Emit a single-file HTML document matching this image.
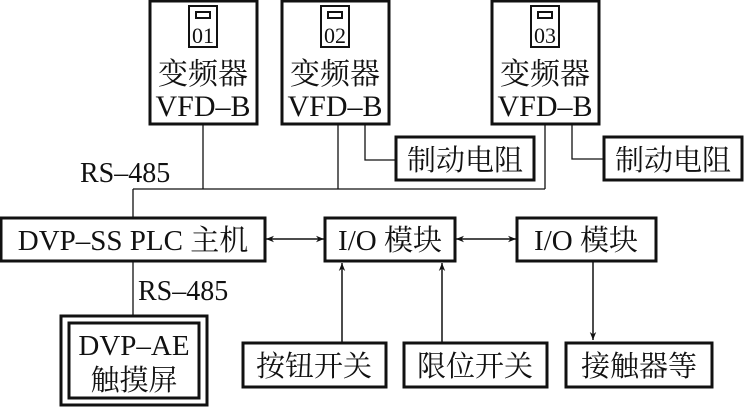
<!DOCTYPE html>
<html><head><meta charset="utf-8"><style>
html,body{margin:0;padding:0;background:#fff;}
svg text{font-family:"Liberation Serif","Noto Serif CJK SC",serif;fill:#111;}
</style></head><body>
<svg width="744" height="407" viewBox="0 0 744 407" xmlns="http://www.w3.org/2000/svg">
<defs>
<marker id="a" viewBox="0 0 10 10" refX="10" refY="5" markerWidth="10" markerHeight="8" orient="auto-start-reverse" markerUnits="userSpaceOnUse">
<path d="M0,1 L10,5 L0,9 L3,5 z" fill="#111"/></marker>
</defs>
<g fill="none" stroke="#111">
<!-- VFD boxes -->
<rect x="150" y="1" width="107" height="123" stroke-width="3"/>
<rect x="282" y="1" width="107" height="123" stroke-width="3"/>
<rect x="492" y="1" width="107" height="123" stroke-width="3"/>
<!-- icons -->
<g stroke-width="2">
<rect x="189" y="6" width="28" height="41"/><rect x="196" y="12" width="14" height="6"/>
<rect x="321" y="6" width="28" height="41"/><rect x="328" y="12" width="14" height="6"/>
<rect x="531" y="6" width="28" height="41"/><rect x="538" y="12" width="14" height="6"/>
</g>
<!-- bus lines -->
<g stroke-width="1.3">
<line x1="203" y1="124" x2="203" y2="189"/>
<line x1="338" y1="124" x2="338" y2="189"/>
<line x1="545" y1="124" x2="545" y2="189"/>
<line x1="133" y1="189" x2="545" y2="189"/>
<line x1="133" y1="189" x2="133" y2="218"/>
<line x1="133" y1="262" x2="133" y2="315"/>
<polyline points="365,124 365,160 396,160"/>
<polyline points="572,124 572,159 604,159"/>
</g>
<!-- brake boxes -->
<rect x="396" y="137" width="138" height="43" stroke-width="3"/>
<rect x="604" y="137" width="138" height="43" stroke-width="3"/>
<!-- PLC & IO -->
<rect x="1" y="218" width="264" height="43" stroke-width="3"/>
<rect x="325" y="218" width="130" height="43" stroke-width="3"/>
<rect x="517" y="218" width="139" height="43" stroke-width="3"/>
<g stroke-width="1.5">
<line x1="266" y1="239" x2="324" y2="239" marker-start="url(#a)" marker-end="url(#a)"/>
<line x1="456" y1="239" x2="516" y2="239" marker-start="url(#a)" marker-end="url(#a)"/>
<line x1="342" y1="342" x2="342" y2="263" marker-end="url(#a)"/>
<line x1="442" y1="342" x2="442" y2="263" marker-end="url(#a)"/>
<line x1="593" y1="262" x2="593" y2="340" marker-end="url(#a)"/>
</g>
<!-- touch screen -->
<rect x="61" y="316" width="146" height="89" stroke-width="3"/>
<rect x="69" y="323" width="130" height="75" stroke-width="3"/>
<!-- bottom boxes -->
<rect x="243" y="343" width="143" height="44" stroke-width="3"/>
<rect x="404" y="343" width="143" height="44" stroke-width="3"/>
<rect x="566" y="343" width="146" height="44" stroke-width="3"/>
</g>
<g font-size="22" text-anchor="middle">
<text x="203" y="43">01</text><text x="335" y="43">02</text><text x="545" y="43">03</text>
</g>
<g font-size="30" text-anchor="middle">
<text x="203" y="84">变频器</text><text x="203" y="116">VFD–B</text>
<text x="335" y="84">变频器</text><text x="335" y="116">VFD–B</text>
<text x="545" y="84">变频器</text><text x="545" y="116">VFD–B</text>
</g>
<g font-size="29" text-anchor="middle">
<text x="465" y="170">制动电阻</text>
<text x="673" y="170">制动电阻</text>
<text x="133" y="250">DVP–SS PLC 主机</text>
<text x="390" y="250">I/O 模块</text>
<text x="586" y="250">I/O 模块</text>
<text x="134" y="355">DVP–AE</text>
<text x="134" y="390">触摸屏</text>
<text x="314" y="376">按钮开关</text>
<text x="475" y="376">限位开关</text>
<text x="639" y="376">接触器等</text>
</g>
<g font-size="28">
<text x="80" y="182">RS–485</text>
<text x="138" y="300">RS–485</text>
</g>
</svg>
</body></html>
